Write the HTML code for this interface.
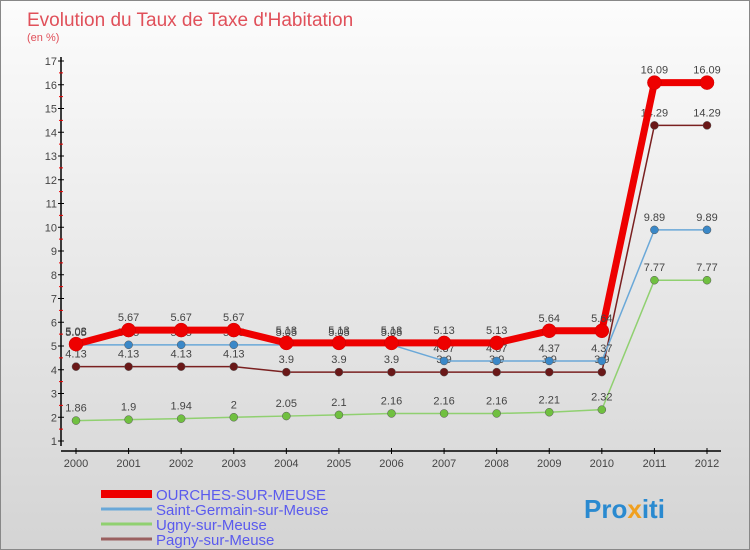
<!DOCTYPE html>
<html><head><meta charset="utf-8"><style>
body{margin:0}
#c{width:750px;height:550px;position:relative;font-family:"Liberation Sans",sans-serif;background:linear-gradient(#fcfcfc,#d4d4d4);box-sizing:border-box;border:1px solid #888;overflow:hidden}
</style></head><body>
<div id="c">
<svg id="s" width="750" height="550" style="position:absolute;left:0;top:0">
<text x="26" y="25" font-size="19" fill="#e0505a">Evolution du Taux de Taxe d'Habitation</text>
<text x="26" y="40" font-size="11" fill="#e0505a">(en %)</text>
<g id="axes"></g><g id="series"></g><g id="legend"></g>
<text x="583" y="517" font-size="26" font-weight="bold" fill="#2a8ad0">Pro<tspan fill="#f0a020">x</tspan>iti</text>
</svg>
</div>
<script>
const years=["2000","2001","2002","2003","2004","2005","2006","2007","2008","2009","2010","2011","2012"];
const yTicks=[1,2,3,4,5,6,7,8,9,10,11,12,13,14,15,16,17];
const names=["OURCHES-SUR-MEUSE","Saint-Germain-sur-Meuse","Ugny-sur-Meuse","Pagny-sur-Meuse"];
const ourches=[5.08,5.67,5.67,5.67,5.13,5.13,5.13,5.13,5.13,5.64,5.64,16.09,16.09];
const stGermain=[5.05,5.05,5.05,5.05,5.05,5.05,5.05,4.37,4.37,4.37,4.37,9.89,9.89];
const ugny=[1.86,1.9,1.94,2,2.05,2.1,2.16,2.16,2.16,2.21,2.32,7.77,7.77];
const pagny=[4.13,4.13,4.13,4.13,3.9,3.9,3.9,3.9,3.9,3.9,3.9,14.29,14.29];
const NS="http://www.w3.org/2000/svg";
const x=i=>75+i*(706-75)/(years.length-1);
const y=v=>440-(v-1)*23.75;
function mk(p,t,a){const e=document.createElementNS(NS,t);for(const k in a)e.setAttribute(k,a[k]);p.appendChild(e);return e;}
const ax=document.getElementById('axes');
let l=mk(ax,'line',{x1:60,y1:56,x2:60,y2:445,stroke:'#000','stroke-width':1.5});

l=mk(ax,'line',{x1:60,y1:450,x2:720,y2:450,stroke:'#000','stroke-width':1.5});

yTicks.forEach(v=>{mk(ax,'line',{x1:57,y1:y(v),x2:63,y2:y(v),stroke:'#000'});
 if(v<17)mk(ax,'line',{x1:58,y1:y(v+0.5),x2:62,y2:y(v+0.5),stroke:'#e00'});
 const t=mk(ax,'text',{x:56,y:y(v)+4,'font-size':11,'text-anchor':'end',fill:'#444'});t.textContent=v;
 });
years.forEach((yr,i)=>{mk(ax,'line',{x1:x(i),y1:447,x2:x(i),y2:453,stroke:'#000'});
 const t=mk(ax,'text',{x:x(i),y:466,'font-size':11,'text-anchor':'middle',fill:'#444'});t.textContent=yr;
 });
const series=[[pagny,'#7a2020','#6a1818',1.5,4],[ugny,'#90d070','#70c040',1.5,4],[stGermain,'#6aa8d8','#3a88c8',1.5,4],[ourches,'#ee0000','#ee0000',7,7]];
const sg=document.getElementById('series');
series.forEach(([d,c,dc,w,r],si)=>{
 const p=mk(sg,'polyline',{points:d.map((v,i)=>x(i)+','+y(v)).join(' '),fill:'none',stroke:c,'stroke-width':w,'stroke-linejoin':'round'});
 
 d.forEach((v,i)=>{const cc=mk(sg,'circle',{cx:x(i),cy:y(v),r:r,fill:dc,stroke:si==3?'#c00':'#555','stroke-width':0.5});
  
  const t=mk(sg,'text',{x:x(i),y:y(v)-9,'font-size':11,'text-anchor':'middle',fill:'#444'});t.textContent=v;
  });
});
const lg=document.getElementById('legend');
const lc=['#ee0000','#6aa8d8','#90d070','#9a6060'];
names.forEach((n,i)=>{const yy=493+i*15;
 const r=mk(lg,'rect',{x:100,y:yy-(i==0?4:1.5),width:51,height:i==0?8:3,fill:lc[i]});
 
 const t=mk(lg,'text',{x:155,y:yy+6,'font-size':15,fill:'#5a5aee'});t.textContent=n;
 });
</script>
</body></html>
